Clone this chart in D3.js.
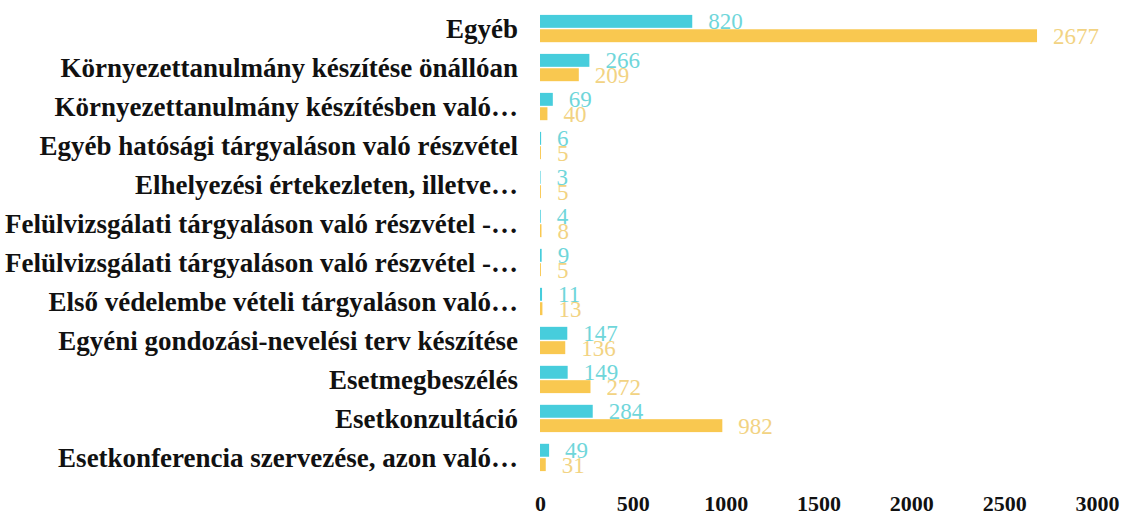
<!DOCTYPE html>
<html>
    <head>
        <meta charset="utf-8">
        <title>Chart</title>
        <script src="https://d3js.org/d3.v7.min.js"></script>
        <style>
            body {
                margin: 0;
                background: white;
            }
            .catLabel {
                font-family: "Liberation Serif", serif;
                font-weight: bold;
                font-size: 27px;
                fill: #111;
            }
            .valLabel {
                font-family: "Liberation Serif", serif;
                font-size: 23px;
            }
            #bottomAxis text {
                font-family: "Liberation Serif", serif;
                font-weight: bold;
                font-size: 22px;
                fill: #111;
            }
            #bottomAxis .domain, #bottomAxis line {
                stroke: none;
            }
        </style>
    </head>

    <body>
        <svg id="svg" width=1123 height=517></svg>

        <script>
            const categories = [
                "Egyéb",
                "Környezettanulmány készítése önállóan",
                "Környezettanulmány készítésben való…",
                "Egyéb hatósági tárgyaláson való részvétel",
                "Elhelyezési értekezleten, illetve…",
                "Felülvizsgálati tárgyaláson való részvétel -…",
                "Felülvizsgálati tárgyaláson való részvétel -…",
                "Első védelembe vételi tárgyaláson való…",
                "Egyéni gondozási-nevelési terv készítése",
                "Esetmegbeszélés",
                "Esetkonzultáció",
                "Esetkonferencia szervezése, azon való…"
            ];
            const seriesA = [820, 266, 69, 6, 3, 4, 9, 11, 147, 149, 284, 49];
            const seriesB = [2677, 209, 40, 5, 5, 8, 5, 13, 136, 272, 982, 31];
            const xTicks = [0, 500, 1000, 1500, 2000, 2500, 3000];

            const svg = d3.select("svg#svg");
            const width = svg.attr("width");
            const height = svg.attr("height");
            const margins = {
                top: 11,
                right: 25,
                bottom: 42,
                left: 540
            };

            const chartWidth = width - margins.left - margins.right;
            const chartHeight = height - margins.top - margins.bottom;

            let chartArea = svg.append("g")
                               .attr("id", "chartArea")
                               .attr("transform", `translate(${margins.left},${margins.top})`);

            // Scales
            const xScale = d3.scaleLinear()
                             .domain([0, 3000])
                             .range([0, 557]);

            const yScale = d3.scaleBand()
                             .domain(d3.range(categories.length))
                             .range([0, chartHeight])
                             .paddingInner(0.3)
                             .paddingOuter(0.1);

            const subScale = d3.scaleBand()
                               .domain(["A", "B"])
                               .range([0, yScale.bandwidth()])
                               .paddingInner(0.1);

            // Bottom axis
            let bottomAxis = d3.axisBottom(xScale)
                               .tickValues(xTicks)
                               .tickFormat(d3.format("d"))
                               .tickSize(0)
                               .tickPadding(0);
            svg.append("g")
               .attr("id", "bottomAxis")
               .attr("transform", `translate(${margins.left}, ${height - 22})`)
               .call(bottomAxis);

            // Category labels
            chartArea.selectAll("text.catLabel")
                     .data(categories)
                     .join("text")
                     .attr("class", "catLabel")
                     .attr("x", -22)
                     .attr("y", (d, i) => yScale(i) + yScale.bandwidth() / 2)
                     .attr("dy", "0.35em")
                     .attr("text-anchor", "end")
                     .text(d => d);

            const series = [
                {key: "A", values: seriesA, fill: "#47cddc", text: "#6fd6da"},
                {key: "B", values: seriesB, fill: "#f9c850", text: "#f2d383"}
            ];

            series.forEach(s => {
                chartArea.selectAll(`rect.bar${s.key}`)
                         .data(s.values)
                         .join("rect")
                         .attr("class", `bar${s.key}`)
                         .attr("x", 0)
                         .attr("y", (d, i) => yScale(i) + subScale(s.key))
                         .attr("width", d => xScale(d))
                         .attr("height", subScale.bandwidth())
                         .attr("fill", s.fill);

                chartArea.selectAll(`text.val${s.key}`)
                         .data(s.values)
                         .join("text")
                         .attr("class", `valLabel val${s.key}`)
                         .attr("x", d => xScale(d) + 16)
                         .attr("y", (d, i) => yScale(i) + subScale(s.key) + subScale.bandwidth() / 2)
                         .attr("dy", "0.35em")
                         .attr("fill", s.text)
                         .text(d => d);
            });
        </script>
    </body>
</html>
